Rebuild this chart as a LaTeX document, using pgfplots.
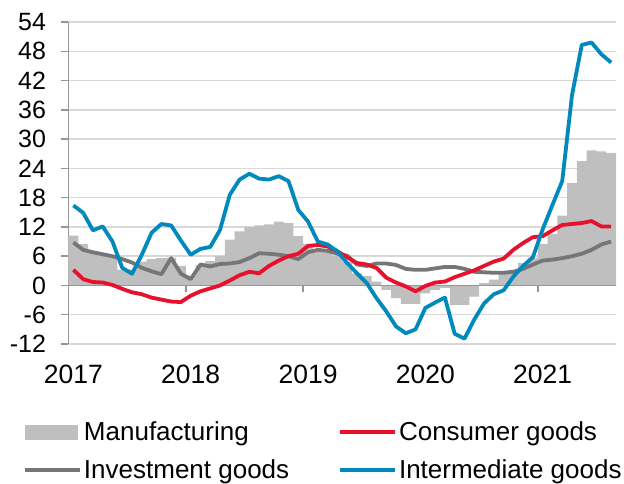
\documentclass[border=0pt]{standalone}
\usepackage{pgfplots}
\usepackage{pgfplotstable}
\pgfplotsset{compat=1.18}
\usepackage{fontspec}
\setmainfont{Liberation Sans}
\definecolor{manuf}{RGB}{191,191,191}
\definecolor{cons}{RGB}{232,17,45}
\definecolor{inv}{RGB}{118,118,122}
\definecolor{inter}{RGB}{0,137,189}
\definecolor{gridc}{RGB}{217,217,217}
\definecolor{axisc}{RGB}{150,150,150}

% monthly growth, Jan 2017 (m=0) to Aug 2021 (m=55)
\pgfplotstableread{
m  manuf cons inv inter
0  10.2  3.2  8.8 16.4
1   8.5  1.3  7.3 14.9
2   6.8  0.7  6.8 11.3
3   6.3  0.6  6.4 12.1
4   5.8  0.1  6.0  9.0
5   3.2 -0.7  5.4  3.6
6   3.3 -1.4  4.7  2.4
7   4.9 -1.8  3.6  6.3
8   5.4 -2.5  2.9 10.8
9   5.6 -2.9  2.3 12.6
10  5.7 -3.3  5.6 12.3
11  4.0 -3.4  2.4  9.2
12  2.0 -2.1  1.3  6.3
13  4.2 -1.2  4.3  7.5
14  5.0 -0.6  3.9  7.9
15  6.0  0.0  4.4 11.4
16  9.4  1.0  4.5 18.6
17 11.1  2.1  4.8 21.7
18 12.0  2.8  5.6 22.9
19 12.3  2.5  6.6 21.9
20 12.5  4.0  6.5 21.7
21 13.1  5.1  6.3 22.4
22 12.8  6.0  6.0 21.4
23 10.1  6.5  5.4 15.5
24  8.5  8.1  6.8 13.1
25  7.3  8.3  7.3  9.0
26  6.9  8.0  7.1  8.4
27  6.0  7.0  6.5  7.0
28  4.8  5.8  6.1  4.6
29  2.5  4.6  4.3  2.5
30  1.9  4.3  4.0  0.5
31  0.8  3.6  4.5 -2.6
32 -0.9  1.6  4.5 -5.3
33 -2.6  0.6  4.2 -8.4
34 -3.8 -0.2  3.4 -9.8
35 -3.8 -1.2  3.2 -9.0
36 -1.6 -0.1  3.2 -4.6
37 -0.9  0.6  3.5 -3.5
38 -0.5  0.8  3.8 -2.5
39 -4.0  1.7  3.8 -9.9
40 -4.0  2.4  3.4 -10.9
41 -2.3  3.1  2.8 -7.0
42  0.5  4.0  2.7 -3.7
43  1.2  4.9  2.6 -1.8
44  2.5  5.5  2.6 -1.0
45  3.2  7.3  2.8  1.8
46  4.6  8.7  3.4  4.0
47  5.6  9.9  4.3  5.8
48  8.5 10.1  5.1 11.5
49 10.5 11.3  5.3 16.5
50 14.3 12.4  5.6 21.4
51 21.0 12.6  6.0 39.0
52 25.5 12.8  6.5 49.3
53 27.7 13.2  7.3 49.8
54 27.5 12.1  8.4 47.4
55 27.2 12.1  9.0 45.7
}\datatable

\begin{document}
\begin{tikzpicture}
\path[use as bounding box] (-68.5pt,-139pt) rectangle (555.5pt,344pt);
\begin{axis}[
    at={(0pt,0pt)}, anchor=south west,
    scale only axis, width=547.5pt, height=322pt,
    xmin=-0.5, xmax=55.5, ymin=-12, ymax=54,
    ytick={-12,-6,...,54},
    yticklabels={-12,-6,0,6,12,18,24,30,36,42,48,54},
    xtick={0,12,24,36,48},
    xticklabels={2017,2018,2019,2020,2021},
    axis y line*=left, axis x line*=bottom,
    x axis line style={draw=none},
    y axis line style={draw=axisc, line width=1.5pt},
    xtick style={draw=none},
    ytick style={draw=axisc, line width=1.5pt},
    tick align=outside, major tick length=7pt,
    ymajorgrids, grid style={draw=gridc, line width=1.5pt},
    yticklabel style={font=\fontsize{25}{30}\selectfont, xshift=-12pt},
    xticklabel style={font=\fontsize{26.5}{31}\selectfont, yshift=-10pt},
    legend columns=2, legend cell align=left,
    legend style={at={(axis description cs:-0.0886,-0.332)}, anchor=west,
        draw=none, fill=none, font=\fontsize{26}{31}\selectfont,
        nodes={inner sep=2pt},
        /tikz/every even column/.append style={column sep=47pt},
        row sep=14pt},
]
\addlegendimage{legend image code/.code={\fill[manuf] (0pt,-7pt) rectangle (52pt,7pt);}}
\addlegendentry{Manufacturing}
\addlegendimage{legend image code/.code={\draw[cons, line width=3.8pt] (0pt,0pt) -- (55pt,0pt);}}
\addlegendentry{Consumer goods}
\addlegendimage{legend image code/.code={\draw[inv, line width=3.8pt] (0pt,0pt) -- (55pt,0pt);}}
\addlegendentry{Investment goods}
\addlegendimage{legend image code/.code={\draw[inter, line width=3.8pt] (0pt,0pt) -- (55pt,0pt);}}
\addlegendentry{Intermediate goods}

\addplot[forget plot, ybar, bar width=1, fill=manuf, draw=none] table[x=m, y=manuf] {\datatable};
% zero line with year ticks
\draw[axisc, line width=1.5pt] (axis cs:-0.5,0) -- (axis cs:55.5,0);
\draw[axisc, line width=1.5pt] (axis cs:11.5,0) -- ++(0pt,-7pt);
\draw[axisc, line width=1.5pt] (axis cs:23.5,0) -- ++(0pt,-7pt);
\draw[axisc, line width=1.5pt] (axis cs:35.5,0) -- ++(0pt,-7pt);
\draw[axisc, line width=1.5pt] (axis cs:47.5,0) -- ++(0pt,-7pt);
\addplot[forget plot, inv, line width=3.8pt, line join=round] table[x=m, y=inv] {\datatable};
\addplot[forget plot, cons, line width=3.8pt, line join=round] table[x=m, y=cons] {\datatable};
\addplot[forget plot, inter, line width=3.8pt, line join=round] table[x=m, y=inter] {\datatable};
\end{axis}
\end{tikzpicture}
\end{document}
